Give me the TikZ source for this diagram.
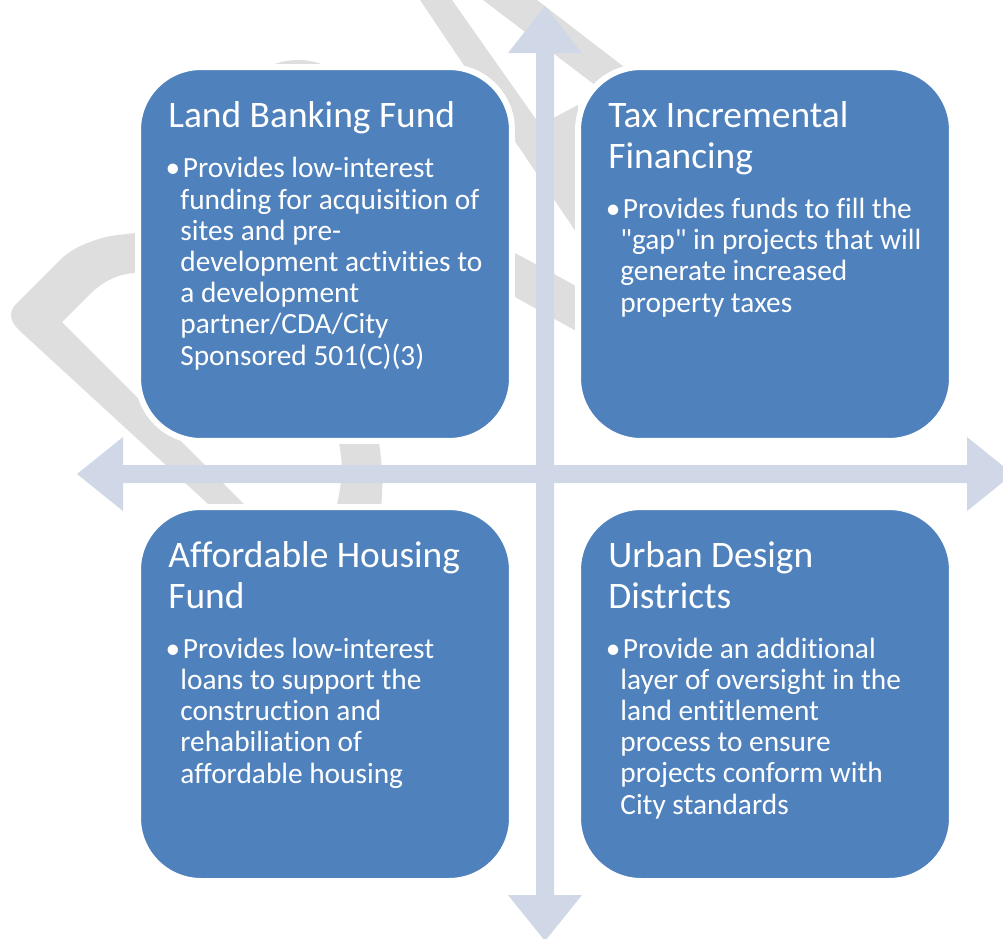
\documentclass[tikz,border=0pt]{standalone}
\usepackage{fontspec}
\setmainfont{Carlito}[Ligatures=NoCommon]
\definecolor{boxblue}{RGB}{79,129,189}
\definecolor{crossblue}{RGB}{208,216,232}
\definecolor{wmgray}{RGB}{222,222,222}

\begin{document}
\begin{tikzpicture}[x=0.02cm, y=-0.02cm,
  box/.style={draw=white, line width=3.4pt, fill=boxblue, rounded corners=1.26cm, minimum width=7.48cm, minimum height=7.48cm, inner sep=0pt},
  head/.style={anchor=base west, align=left, inner sep=0pt, text=white, font=\fontsize{21.3}{23}\selectfont},
  body/.style={anchor=base west, align=left, inner sep=0pt, text=white, font=\fontsize{16.7}{17.75}\selectfont},
  wm/.style={fill=wmgray},
  cross/.style={fill=crossblue}]
\useasboundingbox (0,0) rectangle (1003,938);
\clip (0,0) rectangle (1003,938);

% watermark in the background
\fill[wm] (298,130) circle [radius=70];
\fill[wm] (160,230) -- (110,236) .. controls (85,242) and (70,250) .. (60,260) -- (16,304) .. controls (8,312) and (10,322) .. (20,331) -- (269,560) -- (300,560) -- (62,322) -- (88,296) .. controls (100,284) and (115,274) .. (135,273) -- (160,273) -- cycle;
\fill[wm] (333,420) .. controls (345,460) and (345,480) .. (330,530) -- (378,530) .. controls (385,490) and (383,460) .. (375,420) -- cycle;
\fill[wm] (420,0) -- (452,0) -- (540,125) -- (578,105) -- (578,235) -- cycle;
\fill[wm] (483,0) -- (537,0) -- (680,110) -- (620,104) -- cycle;
\fill[wm] (515,253) -- (578,287) -- (578,332) -- (515,297) -- cycle;

% the cross
\fill[cross] (545,6) -- (582,53) -- (554,53) -- (554,895) -- (582,895) -- (545,941) -- (508,895) -- (536,895) -- (536,53) -- (508,53) -- cycle;
\fill[cross] (77,474) -- (123,437) -- (123,465) -- (967,465) -- (967,437) -- (1013,474) -- (967,511) -- (967,483) -- (123,483) -- (123,511) -- cycle;

% the four boxes
\node[box] (lbf) at (325,254) {};
\node[box] (tif) at (765,254) {};
\node[box] (ahf) at (325,694) {};
\node[box] (udd) at (765,694) {};

% texts, placed by the baseline of their last line
\node[head] (lbf-h) at (168,127) {Land Banking Fund};
\node[body] (lbf-b) at (180,365) {\llap{\textbullet}\hspace{1.5pt}Provides low-interest\\funding for acquisition of\\sites and pre-\\development activities to\\a development\\partner/CDA/City\\Sponsored 501(C)(3)};

\node[head] (tif-h) at (608,168) {Tax Incremental\\Financing};
\node[body] (tif-b) at (620,312) {\llap{\textbullet}\hspace{1.5pt}Provides funds to fill the\\\textquotedbl gap\textquotedbl{} in projects that will\\generate increased\\property taxes};

\node[head] (ahf-h) at (168,608) {Affordable Housing\\Fund};
\node[body] (ahf-b) at (180,783) {\llap{\textbullet}\hspace{1.5pt}Provides low-interest\\loans to support the\\construction and\\rehabiliation of\\affordable housing};

\node[head] (udd-h) at (608,608) {Urban Design\\Districts};
\node[body] (udd-b) at (620,814) {\llap{\textbullet}\hspace{1.5pt}Provide an additional\\layer of oversight in the\\land entitlement\\process to ensure\\projects conform with\\City standards};
\end{tikzpicture}
\end{document}
